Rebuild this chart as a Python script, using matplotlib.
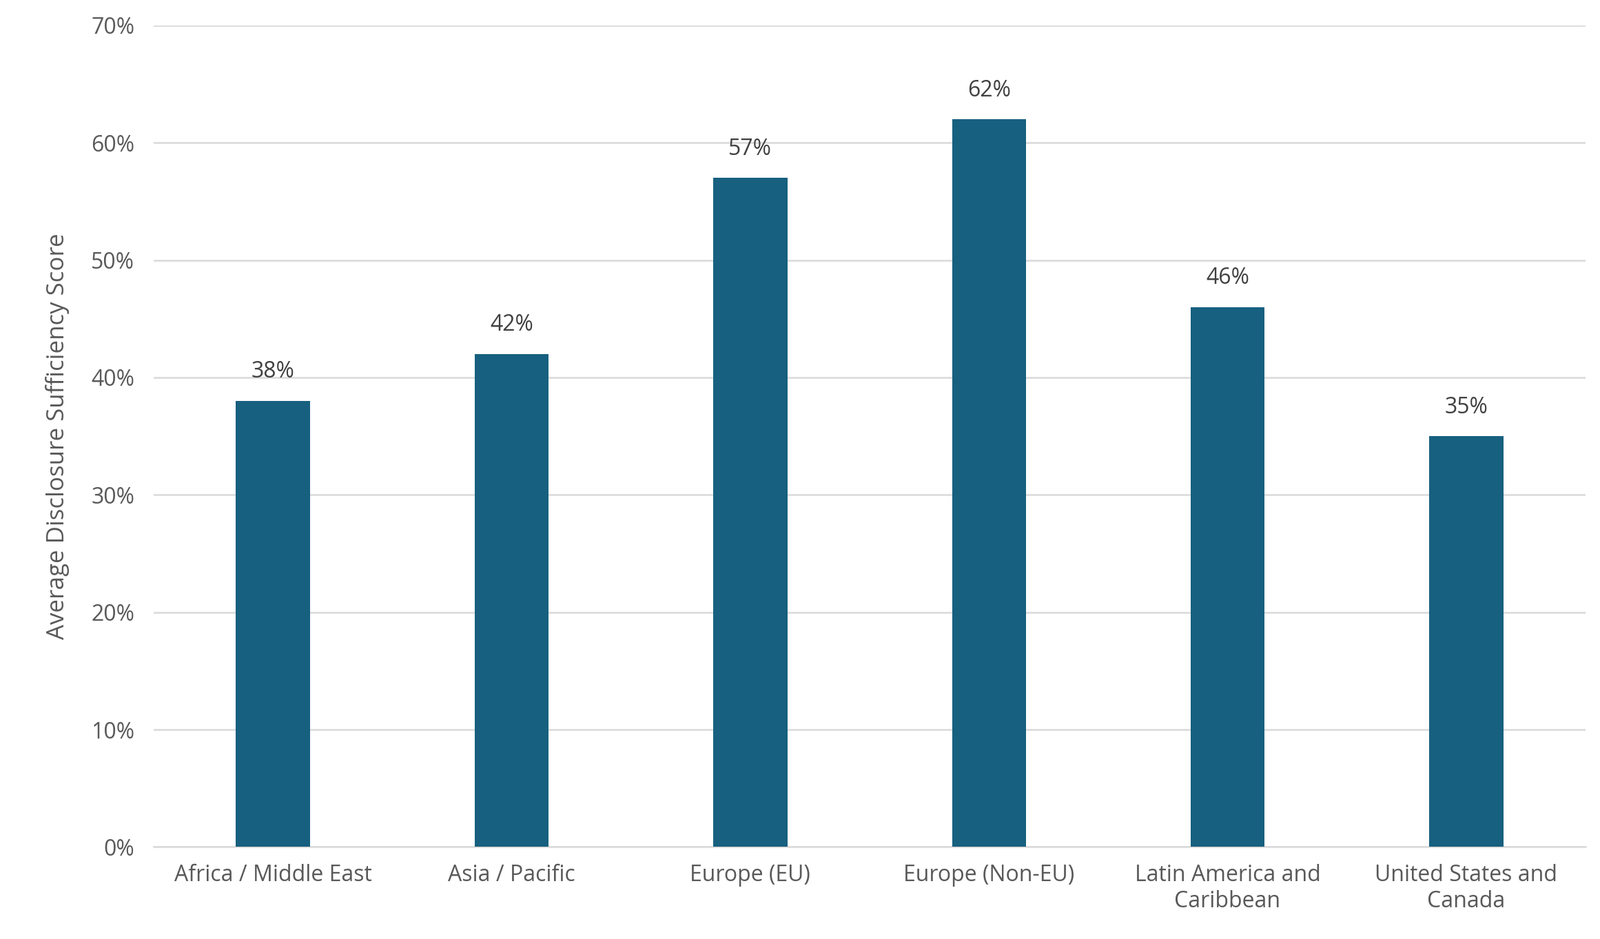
import matplotlib
matplotlib.use("Agg")
import matplotlib.pyplot as plt
from matplotlib.ticker import PercentFormatter, MultipleLocator

categories = ["Africa / Middle East", "Asia / Pacific", "Europe (EU)", "Europe (Non-EU)",
              "Latin America and\nCaribbean", "United States and\nCanada"]
values = [38, 42, 57, 62, 46, 35]

plt.rcParams["font.family"] = "Open Sans"
fig = plt.figure(figsize=(23.22, 13.63), dpi=100)
ax = fig.add_axes([0.096, 0.098, 0.895, 0.875])
x = range(len(categories))
bars = ax.bar(x, values, width=0.31, color="#17607f", zorder=3)
for xi, v in zip(x, values):
    ax.text(xi, v + 1.5, f"{v}%", ha="center", va="bottom", fontsize=23, color="#404040")
ax.set_ylim(0, 70)
ax.set_xlim(-0.5, len(categories) - 0.5)
ax.yaxis.set_major_locator(MultipleLocator(10))
ax.yaxis.set_major_formatter(PercentFormatter(decimals=0))
ax.grid(axis="y", color="#d9d9d9", linewidth=1.8, zorder=0)
for s in ["top", "right", "left"]:
    ax.spines[s].set_visible(False)
ax.spines["bottom"].set_color("#d9d9d9")
ax.spines["bottom"].set_linewidth(1.8)
ax.set_xticks(list(x))
ax.set_xticklabels(categories, fontsize=23, color="#595959", linespacing=1.2)
ax.tick_params(axis="y", labelsize=23, labelcolor="#595959", length=0, pad=20)
ax.tick_params(axis="x", length=0, pad=18)
ax.set_ylabel("Average Disclosure Sufficiency Score", fontsize=25, color="#595959", labelpad=22)
fig.savefig("out.png", dpi=100)
